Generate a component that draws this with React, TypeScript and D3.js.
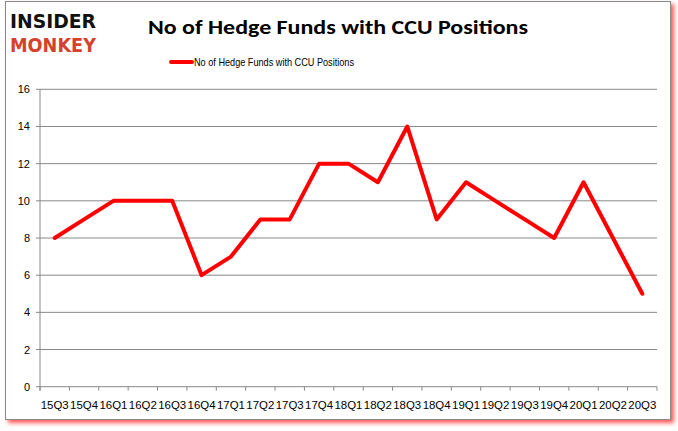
import React from "react";
import * as d3 from "d3";

const categories = ["15Q3","15Q4","16Q1","16Q2","16Q3","16Q4","17Q1","17Q2","17Q3","17Q4","18Q1","18Q2","18Q3","18Q4","19Q1","19Q2","19Q3","19Q4","20Q1","20Q2","20Q3"];
const values = [8,9,10,10,10,6,7,9,9,12,12,11,14,9,11,10,9,8,11,8,5];
const yTicks = [0,2,4,6,8,10,12,14,16];
const title = "No of Hedge Funds with CCU Positions";
const seriesName = "No of Hedge Funds with CCU Positions";

export default function App() {
  const W = 678, H = 431;
  const left = 40, right = 657, top = 89.3, bottom = 386.7;
  const x = d3.scaleBand<string>().domain(categories).range([left, right]);
  const y = d3.scaleLinear().domain([0, 16]).range([bottom, top]);
  const line = d3.line<number>()
    .x((_, i) => (x(categories[i]) as number) + x.bandwidth() / 2)
    .y((d) => y(d));
  const font = "'Liberation Sans', Arial, sans-serif";
  const bounds = categories.map((c) => x(c) as number).concat([right]);
  return (
    <div style={{ position: "absolute", left: 0, top: 0 }}>
      <svg width={W} height={H} style={{ display: "block" }}>
        <defs>
          <filter id="sh" x="-5%" y="-5%" width="110%" height="110%">
            <feGaussianBlur stdDeviation="2" />
          </filter>
        </defs>
        <rect x={0} y={0} width={W} height={H} fill="#fff" />
        <rect x={8} y={4} width={666} height={419} fill="#ff2020" opacity={0.75} filter="url(#sh)" />
        <rect x={5.5} y={1.5} width={665} height={418} fill="#fff" stroke="#8a8a8a" strokeWidth={1} />
        {/* logo */}
        <text x={10} y={28} fontFamily="'DejaVu Sans', sans-serif" fontWeight={900} fontSize={20} fill="#111" textLength={86} lengthAdjust="spacingAndGlyphs">INSIDER</text>
        <text x={10} y={52} fontFamily="'DejaVu Sans', sans-serif" fontWeight={900} fontSize={20} fill="#d8402b" textLength={86} lengthAdjust="spacingAndGlyphs">MONKEY</text>
        {/* title */}
        <text x={338} y={34} textAnchor="middle" fontFamily="Carlito, Calibri, 'Open Sans', sans-serif" fontWeight={700} fontSize={21} fill="#000" textLength={380} lengthAdjust="spacingAndGlyphs">{title}</text>
        {/* legend */}
        <line x1={171} x2={192} y1={62} y2={62} stroke="#ff0000" strokeWidth={4} strokeLinecap="round" />
        <text x={194} y={66} fontFamily={font} fontSize={11} fill="#000" textLength={160} lengthAdjust="spacingAndGlyphs">{seriesName}</text>
        {/* grid */}
        {yTicks.map((t) => (
          <g key={t}>
            <line x1={left - 4} x2={right} y1={y(t)} y2={y(t)} stroke="#888" strokeWidth={1} />
            <text x={30} y={y(t) + 4} textAnchor="end" fontFamily={font} fontSize={11} fill="#000">{t}</text>
          </g>
        ))}
        <line x1={left} x2={left} y1={top} y2={bottom + 4} stroke="#888" strokeWidth={1} />
        {bounds.map((b, i) => (
          <line key={i} x1={b} x2={b} y1={bottom} y2={bottom + 4} stroke="#888" strokeWidth={1} />
        ))}
        {categories.map((c) => (
          <text key={c} x={(x(c) as number) + x.bandwidth() / 2} y={409} textAnchor="middle" fontFamily={font} fontSize={11} fill="#000" textLength={28} lengthAdjust="spacingAndGlyphs">{c}</text>
        ))}
        <path d={line(values) || ""} fill="none" stroke="#ff0000" strokeWidth={4} strokeLinejoin="round" strokeLinecap="round" />
      </svg>
    </div>
  );
}
